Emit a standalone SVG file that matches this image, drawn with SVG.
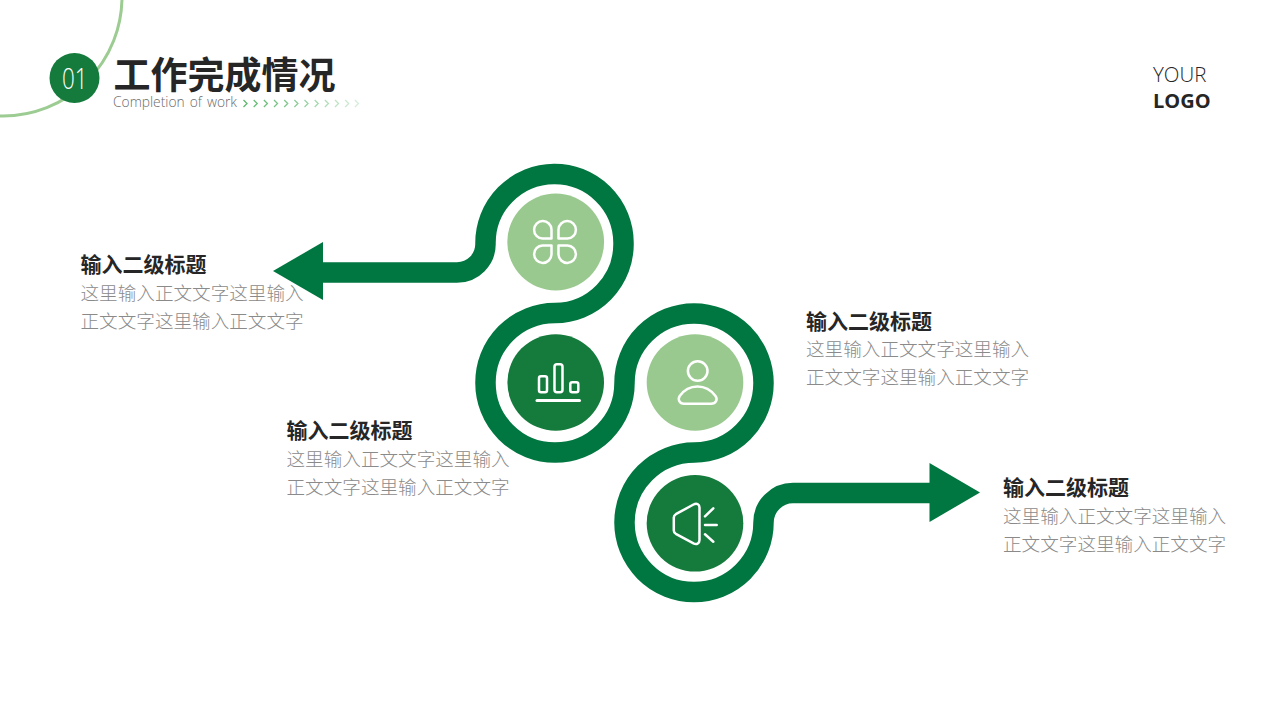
<svg xmlns="http://www.w3.org/2000/svg" width="1280" height="720" viewBox="0 0 1280 720">
<style>
.h{font-family:"Noto Sans CJK SC","Noto Sans",sans-serif;font-weight:700;font-size:21px;fill:#262626}
.b{font-family:"Noto Sans CJK SC","Noto Sans",sans-serif;font-weight:300;font-size:18.6px;fill:#8a8a8a}
.l{font-family:"Open Sans","Noto Sans",sans-serif}
.ic{fill:none;stroke:#fff;stroke-width:2.5;stroke-linecap:round;stroke-linejoin:round}
.chev{fill:none;stroke:#5fb96f;stroke-width:1.3}
.dark{fill:#157b3d}.light{fill:#9ac98f}
</style>
<rect width="1280" height="720" fill="#fff"/>
<g id="header">
<circle cx="3" cy="-3" r="119" fill="none" stroke="#9ccc92" stroke-width="3"/>
<circle cx="74.500" cy="78" r="25" class="dark"/>
<text x="62" y="88.500" textLength="25.500" lengthAdjust="spacingAndGlyphs" class="l" font-weight="300" font-size="30" fill="#fff">01</text>
<text x="113.500" y="88.500" font-family="'Noto Sans CJK SC',sans-serif" font-weight="700" font-size="37" fill="#262626">工作完成情况</text>
<text x="113" y="107" textLength="124" lengthAdjust="spacingAndGlyphs" class="l" font-weight="300" font-size="14" word-spacing="1.500" fill="#6a6a6a">Completion of work</text>
<g class="chev">
<path d="M243.500 100l3.500 3.500l-3.500 3.500" opacity="1"/><path d="M253.700 100l3.500 3.500l-3.500 3.500" opacity=".95"/><path d="M263.900 100l3.500 3.500l-3.500 3.500" opacity=".9"/><path d="M274 100l3.500 3.500l-3.500 3.500" opacity=".85"/><path d="M284.200 100l3.500 3.500l-3.500 3.500" opacity=".8"/><path d="M294.400 100l3.500 3.500l-3.500 3.500" opacity=".72"/><path d="M304.500 100l3.500 3.500l-3.500 3.500" opacity=".64"/><path d="M314.700 100l3.500 3.500l-3.500 3.500" opacity=".56"/><path d="M324.900 100l3.500 3.500l-3.500 3.500" opacity=".48"/><path d="M335 100l3.500 3.500l-3.500 3.500" opacity=".4"/><path d="M345.200 100l3.500 3.500l-3.500 3.500" opacity=".32"/><path d="M354.900 100l3.500 3.500l-3.500 3.500" opacity=".25"/>
</g>
</g>
<g id="logo">
<text x="1153" y="82" class="l" font-weight="300" font-size="20.500" fill="#262626">YOUR</text>
<text x="1153" y="108" class="l" font-weight="700" font-size="20" fill="#262626">LOGO</text>
</g>
<g id="connectors">
<path d="M310,272.500H457A28.500,28.500 0 0 0 485.500,243.500A69,69 0 0 1 623.500,242.500A69,69 0 0 1 555,313A69.500,69.500 0 0 0 485.500,383A69.300,69.300 0 0 0 624.500,383A69.500,69.500 0 0 1 763.500,383A69.500,69.500 0 0 1 694.500,452.500A70,70 0 0 0 624.500,522.500A69.500,69.500 0 0 0 763.500,522.500A29.500,29.500 0 0 1 793,493H935" fill="none" stroke="#007640" stroke-width="20.500"/>
<polygon points="273,271 323,242 323,300" fill="#007640"/>
<polygon points="980,492.500 929.500,463 929.500,522" fill="#007640"/>
</g>
<g id="node1">
<circle cx="555.700" cy="242" r="48.400" class="light"/>
<g class="ic">
<path d="M551.500,238.500H542.500A8.700,8.700 0 1 1 551.500,229.500Z"/>
<path d="M558.500,238.500H567.500A8.700,8.700 0 1 0 558.500,229.500Z"/>
<path d="M551.500,245.500H542.500A8.700,8.700 0 1 0 551.500,254.500Z"/>
<path d="M558.500,245.500H567.500A8.700,8.700 0 1 1 558.500,254.500Z"/>
</g>
<text x="80.500" y="272" class="h">输入二级标题</text>
<text x="80.500" y="300" class="b">这里输入正文文字这里输入</text>
<text x="80.500" y="328" class="b">正文文字这里输入正文文字</text>
</g>
<g id="node2">
<circle cx="555.700" cy="382.500" r="48.300" class="dark"/>
<g class="ic">
<rect x="539" y="376.300" width="8" height="16" rx="2"/>
<rect x="554.500" y="364.300" width="8" height="28" rx="2.500"/>
<rect x="570.300" y="382.300" width="8" height="10" rx="2"/>
<path d="M537,400.500H579.500" stroke-width="3"/>
</g>
<text x="286.500" y="438" class="h">输入二级标题</text>
<text x="286.500" y="466" class="b">这里输入正文文字这里输入</text>
<text x="286.500" y="494" class="b">正文文字这里输入正文文字</text>
</g>
<g id="node3">
<circle cx="695" cy="382.500" r="48.300" class="light"/>
<g class="ic">
<circle cx="697.700" cy="371" r="9.800"/>
<path d="M684,403.700H711C716,403.700 718,399.500 715.500,396C711,390 704,386.500 697.500,386.500C691,386.500 684,390 679.700,396C677.500,399.500 679.500,403.700 684,403.700Z"/>
</g>
<text x="806" y="329" class="h">输入二级标题</text>
<text x="806" y="356" class="b">这里输入正文文字这里输入</text>
<text x="806" y="384" class="b">正文文字这里输入正文文字</text>
</g>
<g id="node4">
<circle cx="695" cy="523.300" r="48.300" class="dark"/>
<g class="ic">
<path d="M673.800,517.500V530.500C673.800,532 674.500,533 675.800,533.800L693.500,543.300C696.500,544.800 699.500,543.500 699.500,540V507.500C699.500,504 696.500,503 693.500,504.500L675.800,514.200C674.500,515 673.800,516 673.800,517.500Z"/>
<path d="M705,516.300L713.300,508.300M705,525H716.700M705,534.300L713.300,541.700"/>
</g>
<text x="1003" y="495" class="h">输入二级标题</text>
<text x="1003" y="523" class="b">这里输入正文文字这里输入</text>
<text x="1003" y="551" class="b">正文文字这里输入正文文字</text>
</g>
</svg>
